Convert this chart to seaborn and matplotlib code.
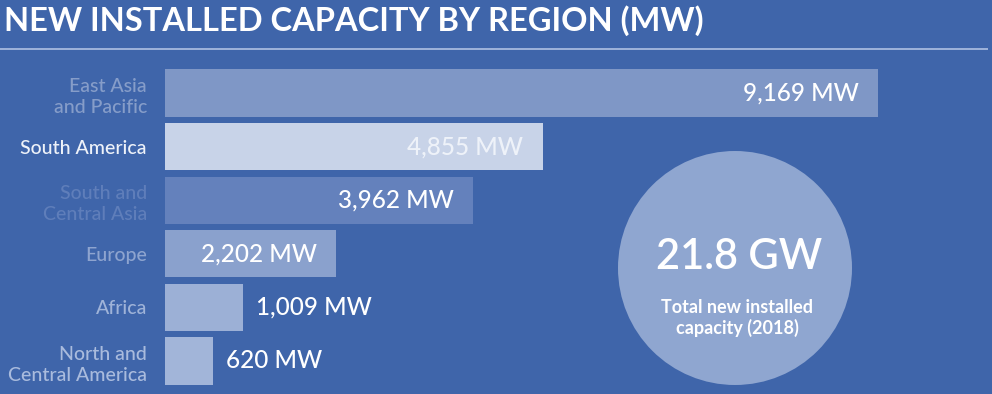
import matplotlib
matplotlib.use("Agg")
import matplotlib.pyplot as plt
import seaborn as sns
import pandas as pd
from matplotlib.patches import Circle

# ---- data ----
regions = ["East Asia\nand Pacific", "South America", "South and\nCentral Asia",
           "Europe", "Africa", "North and\nCentral America"]
capacity_mw = [9169, 4855, 3962, 2202, 1009, 620]
bar_colors = ["#7f97c6", "#c8d3e8", "#6481bc", "#8aa1cd", "#9cb0d6", "#a2b5d9"]
label_colors = ["#869dc9", "#eef2f9", "#5f7eba", "#8ea4cf", "#9fb3d8", "#a9bbdd"]
title = "NEW INSTALLED CAPACITY BY REGION (MW)"
total_value = "21.8 GW"
total_caption = "Total new installed\ncapacity (2018)"

BG = "#3f65aa"
df = pd.DataFrame({"region": regions, "mw": capacity_mw})

sns.set_theme(style="white")
plt.rcParams["font.family"] = ["Lato", "DejaVu Sans"]

W, H = 992, 394
fig = plt.figure(figsize=(W / 100, H / 100), dpi=100, facecolor=BG)

# bar axes (pixel layout: left 165, bar rows centred 93..361)
left_px, right_px = 165, 992
top_px, bot_px = 66.2, 387.8
ax = fig.add_axes([left_px / W, 1 - bot_px / H, (right_px - left_px) / W, (bot_px - top_px) / H])
ax.set_facecolor(BG)
sns.barplot(data=df, y="region", x="mw", hue="region", palette=dict(zip(regions, bar_colors)),
            order=regions, orient="h", width=0.88, legend=False, saturation=1,
            linewidth=0, edgecolor="none", ax=ax)
ax.set_xlim(0, 9169 * (right_px - left_px) / 713)
ax.set_ylim(len(regions) - 0.5, -0.5)
for s in ax.spines.values():
    s.set_visible(False)
ax.set_xticks([])
ax.set_xlabel("")
ax.set_ylabel("")
ax.tick_params(axis="y", length=0, pad=13)
for t, c in zip(ax.get_yticklabels(), label_colors):
    t.set_color(c)
    t.set_fontsize(14)
    t.set_fontweight("medium")
    t.set_linespacing(1.3)

for i, v in enumerate(capacity_mw):
    txt = f"{v:,} MW"
    col = "#eef2f9" if i == 1 else "white"
    if v > 2000:
        ax.annotate(txt, (v, i), xytext=(-14, 0), textcoords="offset points",
                    ha="right", va="center", color=col, fontsize=17.5, fontweight="medium")
    else:
        ax.annotate(txt, (v, i), xytext=(9, 0), textcoords="offset points",
                    ha="left", va="center", color=col, fontsize=17.5, fontweight="medium")

# overlay in pixel coordinates for title rule and circle
ov = fig.add_axes([0, 0, 1, 1], facecolor="none")
ov.set_xlim(0, W)
ov.set_ylim(H, 0)
ov.axis("off")
ov.plot([0, 988], [49, 49], color="#a7badf", lw=1.3, solid_capstyle="butt")
ov.add_patch(Circle((735, 268), 117, facecolor="#8fa6d0", edgecolor="none"))
ov.text(739, 257, total_value, ha="center", va="center", color="white",
        fontsize=30, fontweight="semibold")
ov.text(737, 318, total_caption, ha="center", va="center", color="white",
        fontsize=13, fontweight="bold", linespacing=1.15)
ov.text(4, 21, title, ha="left", va="center", color="white", fontsize=23.5,
        fontweight="bold", family=["Lato", "DejaVu Sans"])

fig.savefig("out.png", dpi=100, facecolor=BG)
